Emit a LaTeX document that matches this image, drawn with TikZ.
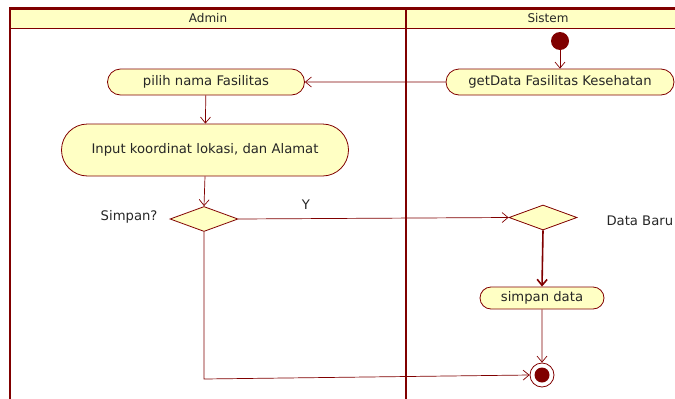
\documentclass[tikz,border=0pt]{standalone}
\usepackage{fontspec}
\setmainfont{DejaVu Sans}
\usetikzlibrary{shapes.geometric,shapes.misc,arrows.meta}
\definecolor{umlred}{HTML}{800000}
\definecolor{umlfill}{HTML}{FFFFC4}
\begin{document}
\begin{tikzpicture}[x=1pt,y=-1pt,
  every node/.style={font=\fontsize{13.2}{15}\selectfont, text=black!85},
  act/.style={draw=umlred, fill=umlfill, rounded rectangle, line width=0.8pt, inner sep=0pt},
  dec/.style={draw=umlred, fill=umlfill, diamond, line width=0.8pt, inner sep=0pt, minimum width=68pt, minimum height=25pt, aspect=2.7},
  flow/.style={draw=umlred, line width=0.7pt, -{Straight Barb[length=6pt,width=10pt]}},
  lane/.style={draw=umlred, line width=2.5pt},
  head/.style={font=\fontsize{12}{14}\selectfont}]
\useasboundingbox (0,0) rectangle (675,399);
% swimlanes
\fill[umlfill] (10,9) rectangle (680,28);
\draw[umlred, line width=1pt] (10,28) -- (680,28);
\draw[lane] (680,8.5) -- (10,8.5) -- (10,402);
\draw[lane] (406,8.5) -- (406,402);
\node[head] (hA) at (208,18.5) {Admin};
\node[head] (hS) at (548,18.5) {Sistem};
% nodes
\node[circle, fill=umlred, minimum size=18pt, inner sep=0pt] (start) at (560,41) {};
\node[act, minimum width=228pt, minimum height=26pt] (get) at (560,82) {getData Fasilitas Kesehatan};
\node[act, minimum width=197pt, minimum height=26pt] (pilih) at (206,82) {pilih nama Fasilitas};
\node[act, minimum width=287pt, minimum height=52pt] (input) at (205,150) {\raisebox{4pt}{Input koordinat lokasi, dan Alamat}};
\node[dec] (d1) at (204,219) {};
\node[anchor=east] (simpanq) at (161,217) {Simpan?};
\node[dec] (d2) at (543,217.5) {};
\node[anchor=west] (baru) at (603,221) {Data Baru};
\node[act, minimum width=124pt, minimum height=22pt] (simpan) at (542,298) {simpan data};
\node[circle, draw=umlred, fill=white, line width=0.8pt, minimum size=24pt, inner sep=0pt] (end) at (542,375) {};
\node[circle, fill=umlred, minimum size=15pt, inner sep=0pt] at (end) {};
% flows
\draw[flow] (start) -- (get);
\draw[flow] (get) -- (pilih);
\draw[flow] (pilih) -- (input);
\draw[flow] (input.south) -- (d1.north);
\draw[flow] (d1.east) -- node[above=5pt, pos=0.25] (y) {Y} (d2.west);
\draw[flow, line width=1.6pt] (d2.south) -- (simpan.north);
\draw[flow] (simpan) -- (end);
\coordinate (corner) at (204,379);
\draw[flow] (d1.south) -- (corner) -- (end.west);
\end{tikzpicture}
\end{document}
